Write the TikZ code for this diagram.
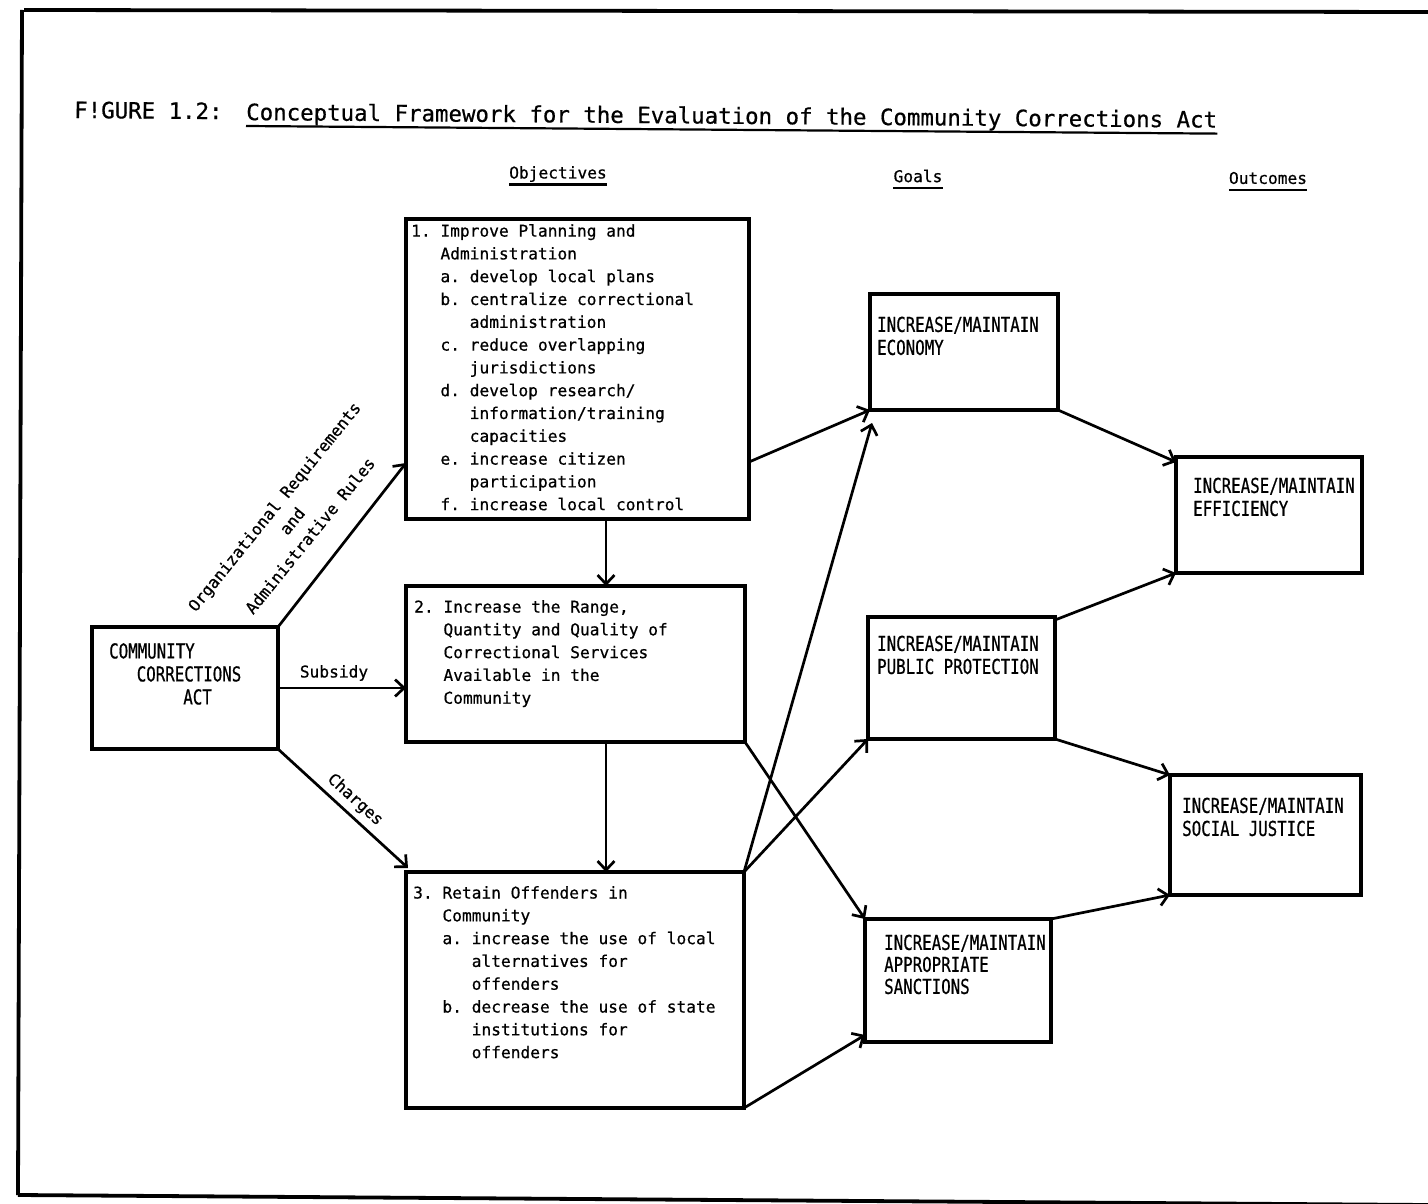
\documentclass[tikz,border=0pt]{standalone}
\usepackage{fontspec}
\newfontfamily\tw[FakeBold=0.6]{DejaVu Sans Mono}
\newfontfamily\twcaps[FakeStretch=0.77,FakeBold=0.6]{DejaVu Sans Mono}
\usetikzlibrary{arrows.meta,calc}
\newcommand\ind[1]{\hspace*{#1\fontcharwd\font`0}}
\tikzset{
  box/.style={draw, rectangle, line width=3.2pt, inner sep=0pt, outer sep=0pt},
  body/.style={font=\tw\fontsize{16.2}{22.8}\selectfont\frenchspacing, inner sep=0pt, align=left, anchor=north west},
  capstext/.style={font=\twcaps\fontsize{20.5}{23}\selectfont\frenchspacing, inner sep=0pt, align=left, anchor=north west},
  conn/.style={line width=2.7pt, -{Straight Barb[length=9pt,width=17pt]}},
  lbl/.style={font=\tw\fontsize{16.2}{23}\selectfont\frenchspacing, inner sep=0pt},
  ttlfont/.style={font=\tw\fontsize{22.4}{26}\selectfont\frenchspacing, inner sep=0pt, anchor=base west, rotate=-0.45},
  edgeline/.style={line width=3.8pt},
  uline/.style={line width=2.2pt},
}
\begin{document}
\begin{tikzpicture}[x=1pt,y=-1pt]
\useasboundingbox (0,0) rectangle (1428,1204);
\clip (0,0) rectangle (1428,1204);
\fill[white] (0,0) rectangle (1428,1204);

% outer frame
\draw[edgeline] (24,10) -- (1428,12);
\draw[edgeline] (22,10) -- (18,1195);
\draw[edgeline] (18,1195) -- (1428,1205);

% title
\node[ttlfont] (fig) at (74,118) {F!GURE 1.2:};
\node[ttlfont] (ttl) at (246,120) {Conceptual Framework for the Evaluation of the Community Corrections Act};
\draw[uline] ([yshift=-6pt]ttl.base west) -- ([yshift=-6pt]ttl.base east);

% column headers
\node[lbl] (hobj) at (558,174) {Objectives};
\draw[uline] ([yshift=-6pt]hobj.base west) -- ([yshift=-6pt]hobj.base east);
\node[lbl] (hgoal) at (918,176) {Goals};
\draw[uline] ([yshift=-6pt]hgoal.base west) -- ([yshift=-6pt]hgoal.base east);
\node[lbl] (hout) at (1268,178) {Outcomes};
\draw[uline] ([yshift=-6pt]hout.base west) -- ([yshift=-6pt]hout.base east);

% boxes
\node[box, minimum width=186pt, minimum height=122pt] (cca) at (185,688) {};
\node[box, minimum width=343pt, minimum height=300pt] (b1) at (577.5,369) {};
\node[box, minimum width=339pt, minimum height=156pt] (b2) at (575.5,664) {};
\node[box, minimum width=338pt, minimum height=236pt] (b3) at (575,990) {};
\node[box, minimum width=188pt, minimum height=116pt] (eco) at (964,352) {};
\node[box, minimum width=187pt, minimum height=122pt] (pp) at (961.5,678) {};
\node[box, minimum width=186pt, minimum height=123pt] (san) at (958,980.5) {};
\node[box, minimum width=186pt, minimum height=116pt] (eff) at (1269,515) {};
\node[box, minimum width=191pt, minimum height=120pt] (sj) at (1265.5,835) {};

% box texts
\node[capstext] (tcca) at (109,643) {COMMUNITY\\\ind{2.9}CORRECTIONS\\\ind{7.8}ACT};
\node[body] (t1) at (411,224) {1. Improve Planning and\\
\ind{3}Administration\\
\ind{3}a. develop local plans\\
\ind{3}b. centralize correctional\\
\ind{6}administration\\
\ind{3}c. reduce overlapping\\
\ind{6}jurisdictions\\
\ind{3}d. develop research/\\
\ind{6}information/training\\
\ind{6}capacities\\
\ind{3}e. increase citizen\\
\ind{6}participation\\
\ind{3}f. increase local control};
\node[body] (t2) at (414,600) {2. Increase the Range,\\
\ind{3}Quantity and Quality of\\
\ind{3}Correctional Services\\
\ind{3}Available in the\\
\ind{3}Community};
\node[body] (t3) at (413,886) {3. Retain Offenders in\\
\ind{3}Community\\
\ind{3}a. increase the use of local\\
\ind{6}alternatives for\\
\ind{6}offenders\\
\ind{3}b. decrease the use of state\\
\ind{6}institutions for\\
\ind{6}offenders};
\node[capstext] (teco) at (877,316.5) {INCREASE/MAINTAIN\\ECONOMY};
\node[capstext] (tpp) at (877,635.5) {INCREASE/MAINTAIN\\PUBLIC PROTECTION};
\node[capstext, font=\twcaps\fontsize{20.5}{22}\selectfont] (tsan) at (884,934.5) {INCREASE/MAINTAIN\\APPROPRIATE\\SANCTIONS};
\node[capstext] (teff) at (1193,477.5) {INCREASE/MAINTAIN\\EFFICIENCY};
\node[capstext] (tsj) at (1182,797.5) {INCREASE/MAINTAIN\\SOCIAL JUSTICE};

% connectors
\coordinate (vx) at (606,0);
\draw[conn] (cca.north east) -- ([yshift=56pt]b1.south west);
\draw[conn] (cca.east) -- (cca.east -| b2.west);
\draw[conn] (cca.south east) -- ([xshift=2pt,yshift=4pt]b3.north west);
\draw[conn] (b1.south -| vx) -- (b2.north -| vx);
\draw[conn] (b2.south -| vx) -- (b3.north -| vx);
\draw[conn] ([yshift=57pt]b1.south east) -- (eco.south west);
\draw[conn] (b3.north east) -- ([xshift=2pt,yshift=-13pt]eco.south west);
\draw[conn] (b3.north east) -- (pp.south west);
\draw[conn] (b2.south east) -- (san.north west);
\draw[conn] (b3.south east) -- ([yshift=7pt]san.south west);
\draw[conn] (eco.south east) -- ([yshift=-5pt]eff.north west);
\draw[conn] ([yshift=-3pt]pp.north east) -- (eff.south west);
\draw[conn] (pp.south east) -- (sj.north west);
\draw[conn] (san.north east) -- (sj.south west);

% connector labels
\node[lbl] (sub) at (334,673) {Subsidy};
\node[lbl, rotate=-42] (chg) at (355,800) {Charges};
\node[lbl, rotate=51, align=center] (org) at (292,521) {Organizational Requirements\\and\\Administrative Rules};
\end{tikzpicture}
\end{document}
